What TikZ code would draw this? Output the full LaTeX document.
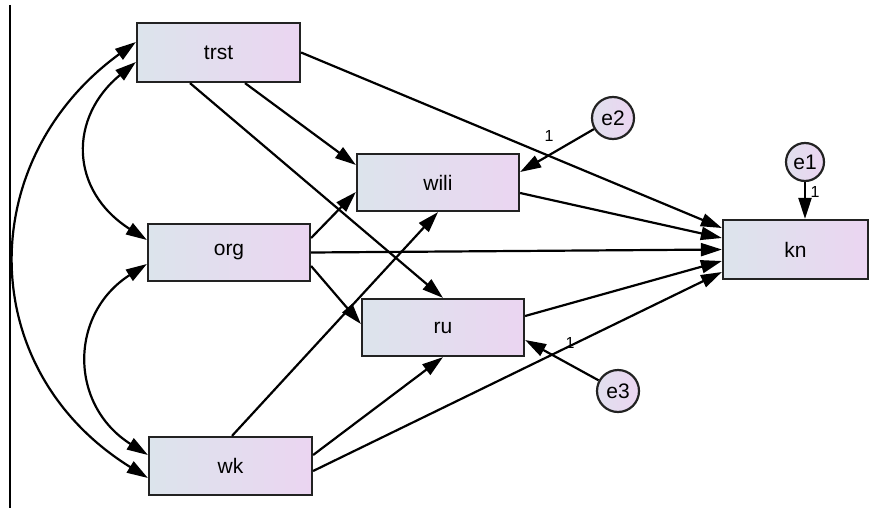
\documentclass[tikz,border=0pt]{standalone}
\usepackage{fontspec}
\setmainfont{Liberation Sans}
\usetikzlibrary{arrows.meta,calc}
\definecolor{boxL}{HTML}{DCE4EC}
\definecolor{boxR}{HTML}{EBD5F1}
\definecolor{rim}{HTML}{222222}
\begin{document}
\begin{tikzpicture}[x=1pt,y=-1pt,
  var/.style={draw=rim,line width=2.2pt,left color=boxL,right color=boxR,
    minimum width=162pt,minimum height=58pt,inner sep=0pt,
    font=\fontsize{21}{21}\selectfont},
  err/.style={circle,draw=rim,line width=2.2pt,left color=boxL!70!boxR,right color=boxR,
    minimum size=42pt,inner sep=0pt,font=\fontsize{21}{21}\selectfont},
  path/.style={line width=2.2pt,-{Triangle[length=21pt,width=13pt]}},
  cov/.style={line width=2.2pt,{Triangle[length=21pt,width=13pt]}-{Triangle[length=21pt,width=13pt]}},
  wt/.style={font=\fontsize{16}{16}\selectfont,inner sep=0pt}]
\useasboundingbox (0,0) rectangle (877,508);

% frame line on the left
\draw[line width=2.8pt] (10,5) -- (10,508);

% observed variables
\node[var,minimum width=163pt,minimum height=59pt] (trst) at (218.5,52.5) {trst};
\node[var,minimum height=57pt] (org) at (229,252.5) {org};
\node[var,minimum width=163pt] (wk) at (230.5,466) {wk};
\node[var,minimum height=57pt] (wili) at (438,182.5) {wili};
\node[var,minimum height=57pt] (ru) at (443,327.5) {ru};
\node[var,minimum width=145pt,minimum height=59pt] (kn) at (795.5,249.5) {kn};

% error terms
\node[err,minimum size=38pt] (e1) at (805,162) {e1};
\node[err] (e2) at (613,118) {e2};
\node[err] (e3) at (618,391) {e3};

% covariances
\draw[cov] ([yshift=10.5pt]trst.west) .. controls +(-162,118) and +(-174,-108) .. ([yshift=-12pt]wk.west);
\draw[cov] ([yshift=-9.5pt]trst.west) .. controls +(-67,55) and +(-78,-50) .. ([yshift=12.5pt]org.west);
\draw[cov] ([yshift=-11.5pt]org.west) .. controls +(-78,50) and +(-79,-50) .. ([yshift=11pt]wk.west);

% regression paths
\draw[path] (trst.east) -- ([yshift=21.5pt]kn.west);
\draw[path] ([xshift=26.5pt]trst.south) -- ([yshift=17.5pt]wili.west);
\draw[path] ([xshift=-28.5pt]trst.south) -- (ru.north);
\draw[path] ([yshift=14.5pt]org.east) -- ([yshift=-9.5pt]wili.west);
\draw[path] (org.east) -- (kn.west);
\draw[path] ([yshift=-13.5pt]org.east) -- ([yshift=3.5pt]ru.west);
\draw[path] ([xshift=1.5pt]wk.north) -- (wili.south);
\draw[path] ([yshift=11pt]wk.east) -- (ru.south);
\draw[path] ([yshift=-5pt]wk.east) -- ([yshift=-22.5pt]kn.west);
\draw[path] ([yshift=-10.5pt]wili.east) -- ([yshift=11.5pt]kn.west);
\draw[path] ([yshift=11.5pt]ru.east) -- ([yshift=-11.5pt]kn.west);

% error paths with fixed weights
\draw[path] (e2) -- ([yshift=10.5pt]wili.east);
\draw[path] (e1) -- ([xshift=9.5pt]kn.north);
\draw[path] (e3) -- ([yshift=-12.5pt]ru.east);
\node[wt] (w2) at (549,136) {1};
\node[wt] (w1) at (815,192) {1};
\node[wt] (w3) at (570,343) {1};
\end{tikzpicture}
\end{document}
